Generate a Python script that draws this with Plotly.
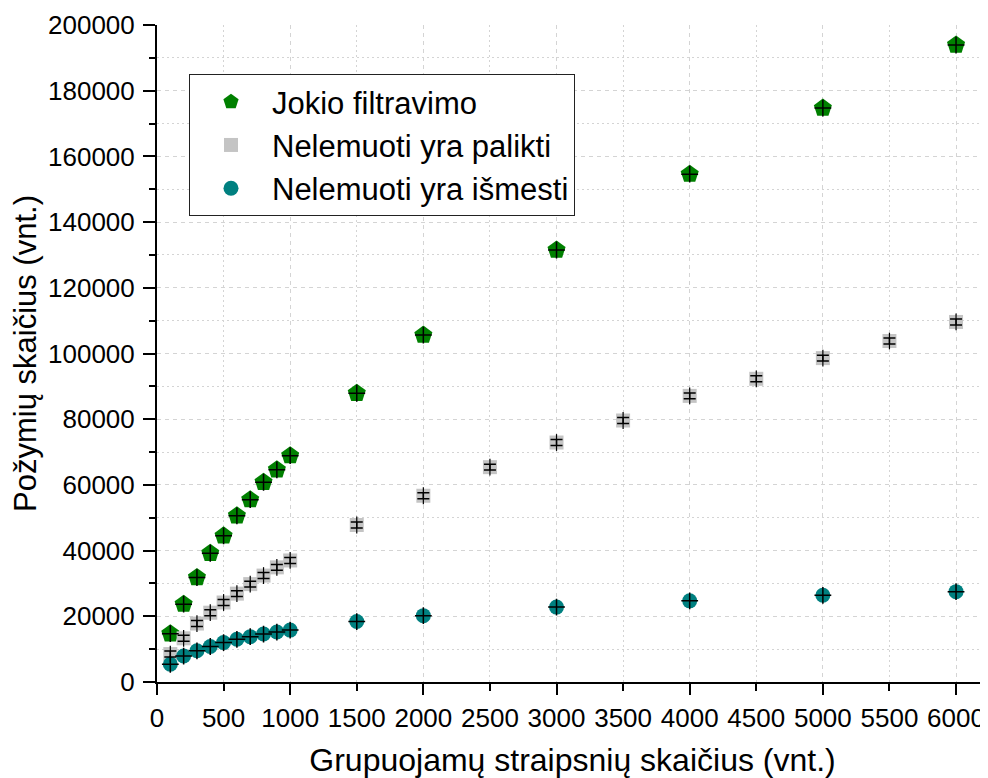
import plotly.graph_objects as go

# ---- data ----
x_green = [100, 200, 300, 400, 500, 600, 700, 800, 900, 1000, 1500, 2000, 3000, 4000, 5000, 6000]
y_green = [14700, 23700, 31800, 39200, 44500, 50600, 55500, 60800, 64600, 68900,
           87900, 105600, 131500, 154600, 174700, 193900]

x_grey = [100, 200, 300, 400, 500, 600, 700, 800, 900, 1000,
          1500, 2000, 2500, 3000, 3500, 4000, 4500, 5000, 5500, 6000]
y_grey = [8500, 13300, 17800, 21100, 24200, 26900, 29800, 32400, 34900, 37000,
          47800, 56700, 65400, 72900, 79600, 87100, 92300, 98600, 103800, 109600]
err_grey = [900] * len(x_grey)

x_teal = [100, 200, 300, 400, 500, 600, 700, 800, 900, 1000, 1500, 2000, 3000, 4000, 5000, 6000]
y_teal = [5400, 7900, 9500, 10800, 12000, 13000, 13800, 14600, 15200, 15800,
          18400, 20200, 22800, 24700, 26400, 27500]

names = ["Jokio filtravimo", "Nelemuoti yra palikti", "Nelemuoti yra išmesti"]
x_tick_vals = list(range(0, 6001, 500))
x_tick_text = [str(v) for v in x_tick_vals]

FONT = "Liberation Sans, Arial, sans-serif"
GRID = "#d4d4d4"

fig = go.Figure()

# main marker traces (legend)
fig.add_trace(go.Scatter(x=x_green, y=y_green, mode="markers", name=names[0],
                         marker=dict(symbol="pentagon", size=19, color="#008000",
                                     line=dict(width=0))))
fig.add_trace(go.Scatter(x=x_grey, y=y_grey, mode="markers", name=names[1],
                         marker=dict(symbol="square", size=14, color="#c4c4c4",
                                     line=dict(width=0))))
fig.add_trace(go.Scatter(x=x_teal, y=y_teal, mode="markers", name=names[2],
                         marker=dict(symbol="circle", size=15, color="#008080",
                                     line=dict(width=0))))

# error-bar style crosses on top
fig.add_trace(go.Scatter(x=x_green, y=y_green, mode="markers", showlegend=False,
                         hoverinfo="skip",
                         marker=dict(symbol="cross-thin", size=12, color="black",
                                     line=dict(width=1.5, color="black"))))
fig.add_trace(go.Scatter(x=x_grey, y=y_grey, mode="markers", showlegend=False,
                         hoverinfo="skip",
                         marker=dict(symbol="line-ns", size=12, color="black",
                                     line=dict(width=1.2, color="black")),
                         error_y=dict(type="data", array=err_grey, visible=True,
                                      color="black", thickness=1.5, width=6)))
fig.add_trace(go.Scatter(x=x_teal, y=y_teal, mode="markers", showlegend=False,
                         hoverinfo="skip",
                         marker=dict(symbol="cross-thin", size=12, color="black",
                                     line=dict(width=1.5, color="black"))))

# invisible trace on x2 so the label axis is drawn
fig.add_trace(go.Scatter(x=[0], y=[0], xaxis="x2", mode="markers", showlegend=False,
                         hoverinfo="skip", marker=dict(opacity=0)))

fig.update_layout(
    width=980, height=770,
    margin=dict(l=149, r=0, t=17, b=96),
    paper_bgcolor="white", plot_bgcolor="white",
    font=dict(family=FONT, color="black"),
    showlegend=True,
    legend=dict(
        x=0.0385, y=0.9254, xanchor="left", yanchor="top",
        bgcolor="white", bordercolor="#222222", borderwidth=1,
        font=dict(size=31, family=FONT, color="black"),
        itemwidth=72, tracegroupgap=0,
    ),
    xaxis=dict(
        range=[0, 6240], showline=True, linecolor="black", linewidth=2,
        ticks="outside", ticklen=11, tickwidth=2, tickcolor="black",
        dtick=1000, tick0=0, showticklabels=False,
        showgrid=True, gridcolor=GRID, gridwidth=1, griddash="4px,4px",
        zeroline=False,
        minor=dict(dtick=500, tick0=0, ticks="outside", ticklen=7, tickwidth=2,
                   tickcolor="black", showgrid=True, gridcolor=GRID, gridwidth=1,
                   griddash="2px,3px"),
        title=dict(text="Grupuojamų straipsnių skaičius (vnt.)",
                   font=dict(size=32, family=FONT), standoff=60),
    ),
    xaxis2=dict(
        overlaying="x", matches="x", side="bottom", anchor="y",
        range=[0, 6240], tickmode="array", tickvals=x_tick_vals, ticktext=x_tick_text,
        ticks="", showline=False, showgrid=False, zeroline=False,
        tickfont=dict(size=26, family=FONT),
        ticklabelstandoff=18,
    ),
    yaxis=dict(
        range=[0, 200000], showline=True, linecolor="black", linewidth=2,
        ticks="outside", ticklen=12, tickwidth=2, tickcolor="black",
        dtick=20000, tick0=0, tickformat="d",
        tickfont=dict(size=26, family=FONT), ticklabelstandoff=3,
        showgrid=True, gridcolor=GRID, gridwidth=1, griddash="4px,4px",
        zeroline=False,
        minor=dict(dtick=10000, tick0=0, ticks="outside", ticklen=6, tickwidth=2,
                   tickcolor="black", showgrid=True, gridcolor=GRID, gridwidth=1,
                   griddash="2px,3px"),
        title=dict(text="Požymių skaičius (vnt.)", font=dict(size=31, family=FONT),
                   standoff=8),
    ),
)

fig.write_html("out.html")
